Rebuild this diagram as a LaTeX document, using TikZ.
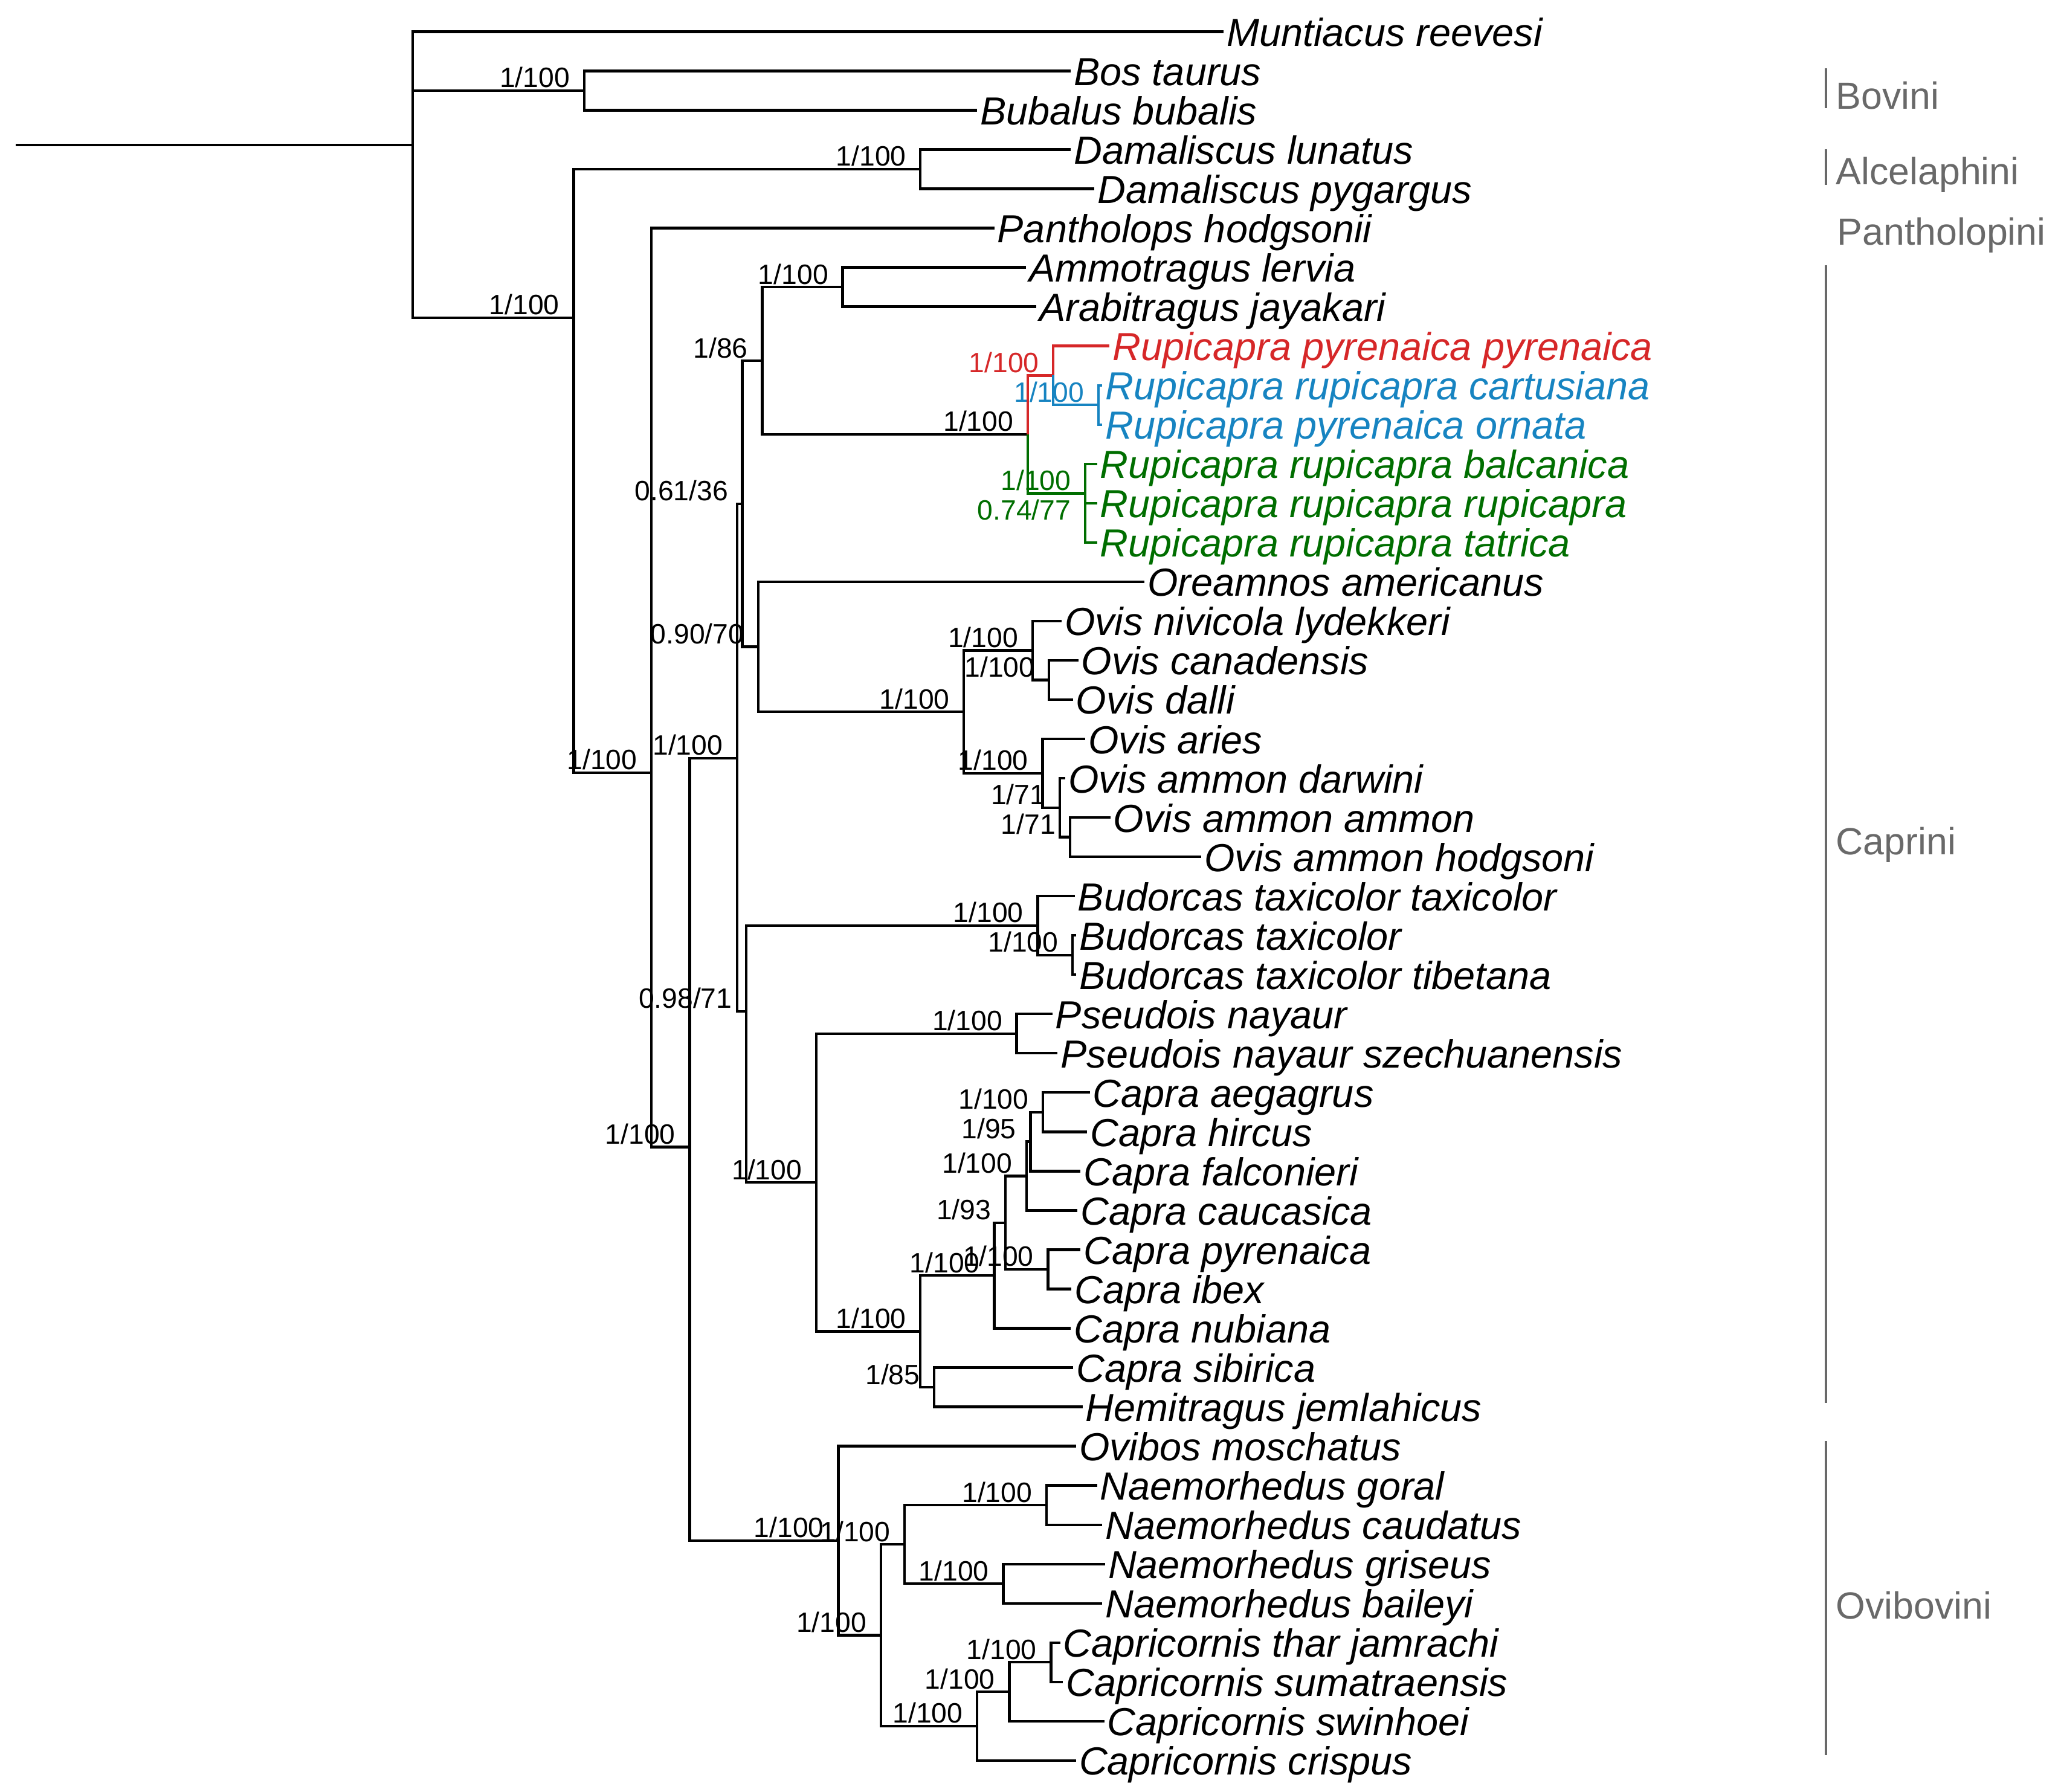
\documentclass[tikz,border=0pt]{standalone}
\usepackage{fontspec}
\setmainfont{Liberation Sans}
\definecolor{rcol}{RGB}{214,39,40}
\definecolor{bcol}{RGB}{23,132,193}
\definecolor{gcol}{RGB}{0,110,0}
\definecolor{grp}{RGB}{105,105,105}
\tikzset{
 br/.style={line width=1pt},
 sp/.style={font=\fontsize{14.85}{16}\selectfont\itshape, inner xsep=1pt, inner ysep=0pt, anchor=base west},
 lab/.style={font=\fontsize{10.6}{12}\selectfont, inner sep=0pt, anchor=base east},
 grpl/.style={font=\fontsize{14.35}{16}\selectfont, text=grp, inner sep=0pt, anchor=base west},
 gbar/.style={draw=grp, line width=0.9pt},
}
\newcommand{\mkleaf}[4][black]{\coordinate (#2) at (#3);\node[sp,text=#1] (#2t) at ([yshift=-5.5pt]#2) {#4};}
\newcommand{\mknode}[4][black]{\coordinate (#2) at (#3);\node[lab,text=#1] (#2l) at ([xshift=-5.25pt,yshift=1.15pt]#2) {#4};}
\begin{document}
\begin{tikzpicture}[x=0.5pt,y=-0.5pt]
\useasboundingbox (0,0) rectangle (1563,1359);
% ---------- leaves ----------
\mkleaf{t1}{928,24}{Muntiacus reevesi}
\mkleaf{t2}{812,53.8}{Bos taurus}
\mkleaf{t3}{741,83.6}{Bubalus bubalis}
\mkleaf{t4}{812,113.4}{Damaliscus lunatus}
\mkleaf{t5}{830,143.2}{Damaliscus pygargus}
\mkleaf{t6}{754,173}{Pantholops hodgsonii}
\mkleaf{t7}{778,202.8}{Ammotragus lervia}
\mkleaf{t8}{786,232.6}{Arabitragus jayakari}
\mkleaf[rcol]{t9}{841.5,262.4}{Rupicapra pyrenaica pyrenaica}
\mkleaf[bcol]{t10}{836,292.2}{Rupicapra rupicapra cartusiana}
\mkleaf[bcol]{t11}{836,322}{Rupicapra pyrenaica ornata}
\mkleaf[gcol]{t12}{832,351.8}{Rupicapra rupicapra balcanica}
\mkleaf[gcol]{t13}{832,381.6}{Rupicapra rupicapra rupicapra}
\mkleaf[gcol]{t14}{832,411.4}{Rupicapra rupicapra tatrica}
\mkleaf{t15}{868,441.2}{Oreamnos americanus}
\mkleaf{t16}{805,471}{Ovis nivicola lydekkeri}
\mkleaf{t17}{817.7,500.8}{Ovis canadensis}
\mkleaf{t18}{813.6,530.6}{Ovis dalli}
\mkleaf{t19}{823,560.4}{Ovis aries}
\mkleaf{t20}{807.8,590.2}{Ovis ammon darwini}
\mkleaf{t21}{842,620}{Ovis ammon ammon}
\mkleaf{t22}{911,649.8}{Ovis ammon hodgsoni}
\mkleaf{t23}{815,679.6}{Budorcas taxicolor taxicolor}
\mkleaf{t24}{816,709.4}{Budorcas taxicolor}
\mkleaf{t25}{816,739.2}{Budorcas taxicolor tibetana}
\mkleaf{t26}{798,769}{Pseudois nayaur}
\mkleaf{t27}{802,798.8}{Pseudois nayaur szechuanensis}
\mkleaf{t28}{826.4,828.6}{Capra aegagrus}
\mkleaf{t29}{824.5,858.4}{Capra hircus}
\mkleaf{t30}{819.5,888.2}{Capra falconieri}
\mkleaf{t31}{817,918}{Capra caucasica}
\mkleaf{t32}{819.5,947.8}{Capra pyrenaica}
\mkleaf{t33}{812.6,977.6}{Capra ibex}
\mkleaf{t34}{812,1007.4}{Capra nubiana}
\mkleaf{t35}{813.8,1037.2}{Capra sibirica}
\mkleaf{t36}{821,1067}{Hemitragus jemlahicus}
\mkleaf{t37}{816,1096.8}{Ovibos moschatus}
\mkleaf{t38}{832,1126.6}{Naemorhedus goral}
\mkleaf{t39}{836,1156.4}{Naemorhedus caudatus}
\mkleaf{t40}{838,1186.2}{Naemorhedus griseus}
\mkleaf{t41}{836,1216}{Naemorhedus baileyi}
\mkleaf{t42}{804,1245.8}{Capricornis thar jamrachi}
\mkleaf{t43}{806,1275.6}{Capricornis sumatraensis}
\mkleaf{t44}{837.4,1305.4}{Capricornis swinhoei}
\mkleaf{t45}{816,1335.2}{Capricornis crispus}
% ---------- internal nodes ----------
\coordinate (r0) at (12,110);
\coordinate (root) at (313,110);
\mknode{nBov}{443,68.7}{1/100}
\mknode{nB}{435,241}{1/100}
\mknode{nDam}{698,128.3}{1/100}
\mknode{nC}{494,586}{1/100}
\mknode{nD}{523,870}{1/100}
\mknode{nE}{559,575}{1/100}
\mknode{nF}{563,382.1}{0.61/36}
\mknode{nG}{575,490.55}{0.90/70}
\mknode{nH}{578,273.6}{1/86}
\mknode{nAmm}{639,217.7}{1/100}
\mknode{nRup}{779.4,329.45}{1/100}
\mknode[rcol]{nRed}{798.8,284.75}{1/100}
\mknode[bcol]{nBlu}{833,307.1}{1/100}
\mknode[gcol]{nGrn}{823,374.15}{1/100}
\mknode[gcol]{nGrnb}{823,396.5}{0.74/77}
\mknode{nOvis}{731,539.9}{1/100}
\mknode{nOva}{783,493.35}{1/100}
\mknode{nOvab}{795.5,515.7}{1/100}
\mknode{nOvc}{790.6,586.5}{1/100}
\mknode{nOvd}{803.7,612.55}{1/71}
\mknode{nOve}{811.4,634.9}{1/71}
\mknode{nI}{566,767}{0.98/71}
\mknode{nBud}{787,701.95}{1/100}
\mknode{nBudb}{813.4,724.3}{1/100}
\mknode{nPC}{619,896.8}{1/100}
\mknode{nPse}{771,783.9}{1/100}
\mknode{nCH}{698,1009.7}{1/100}
\mknode{nCap}{754,967.35}{1/100}
\mknode{nCns}{762.5,927.3}{1/93}
\mknode{nCX}{778.5,891.9}{1/100}
\mknode{nCY}{781.5,865.85}{1/95}
\mknode{nAH}{791,843.5}{1/100}
\mknode{nPI}{794.7,962.7}{1/100}
\mknode{nSH}{708.5,1052.1}{1/85}
\mknode{nOvb}{635.7,1168.45}{1/100}
\mknode{nJ}{668,1240.1}{1/100}
\mknode{nNae}{686,1171.3}{1/100}
\mknode{nGor}{793.6,1141.5}{1/100}
\mknode{nGri}{760.8,1201.1}{1/100}
\mknode{nCpc}{741,1309.1}{1/100}
\mknode{nCpa}{765.4,1283.05}{1/100}
\mknode{nCpb}{797,1260.7}{1/100}
% ---------- branches ----------
\draw[br] (r0) -- (root);
\draw[br] (root) |- (t1);
\draw[br] (root) |- (nBov);
\draw[br] (root) |- (nB);
\draw[br] (nBov) |- (t2);
\draw[br] (nBov) |- (t3);
\draw[br] (nB) |- (nDam);
\draw[br] (nB) |- (nC);
\draw[br] (nDam) |- (t4);
\draw[br] (nDam) |- (t5);
\draw[br] (nC) |- (t6);
\draw[br] (nC) |- (nD);
\draw[br] (nD) |- (nE);
\draw[br] (nD) |- (nOvb);
\draw[br] (nE) |- (nF);
\draw[br] (nE) |- (nI);
\draw[br] (nF) |- (nH);
\draw[br] (nF) |- (nG);
\draw[br] (nH) |- (nAmm);
\draw[br] (nH) |- (nRup);
\draw[br] (nAmm) |- (t7);
\draw[br] (nAmm) |- (t8);
\draw[br,rcol] (nRup) |- (nRed);
\draw[br,gcol] (nRup) |- (nGrn);
\draw[br,rcol] (nRed) |- (t9);
\draw[br,bcol] (nRed) |- (nBlu);
\draw[br,bcol] (nBlu) |- (t10);
\draw[br,bcol] (nBlu) |- (t11);
\draw[br,gcol] (nGrn) |- (t12);
\draw[br,gcol] (nGrn) |- (nGrnb);
\draw[br,gcol] (nGrnb) |- (t13);
\draw[br,gcol] (nGrnb) |- (t14);
\draw[br] (nG) |- (t15);
\draw[br] (nG) |- (nOvis);
\draw[br] (nOvis) |- (nOva);
\draw[br] (nOvis) |- (nOvc);
\draw[br] (nOva) |- (t16);
\draw[br] (nOva) |- (nOvab);
\draw[br] (nOvab) |- (t17);
\draw[br] (nOvab) |- (t18);
\draw[br] (nOvc) |- (t19);
\draw[br] (nOvc) |- (nOvd);
\draw[br] (nOvd) |- (t20);
\draw[br] (nOvd) |- (nOve);
\draw[br] (nOve) |- (t21);
\draw[br] (nOve) |- (t22);
\draw[br] (nI) |- (nBud);
\draw[br] (nI) |- (nPC);
\draw[br] (nBud) |- (t23);
\draw[br] (nBud) |- (nBudb);
\draw[br] (nBudb) |- (t24);
\draw[br] (nBudb) |- (t25);
\draw[br] (nPC) |- (nPse);
\draw[br] (nPC) |- (nCH);
\draw[br] (nPse) |- (t26);
\draw[br] (nPse) |- (t27);
\draw[br] (nCH) |- (nCap);
\draw[br] (nCH) |- (nSH);
\draw[br] (nCap) |- (nCns);
\draw[br] (nCap) |- (t34);
\draw[br] (nCns) |- (nCX);
\draw[br] (nCns) |- (nPI);
\draw[br] (nCX) |- (nCY);
\draw[br] (nCX) |- (t31);
\draw[br] (nCY) |- (nAH);
\draw[br] (nCY) |- (t30);
\draw[br] (nAH) |- (t28);
\draw[br] (nAH) |- (t29);
\draw[br] (nPI) |- (t32);
\draw[br] (nPI) |- (t33);
\draw[br] (nSH) |- (t35);
\draw[br] (nSH) |- (t36);
\draw[br] (nOvb) |- (t37);
\draw[br] (nOvb) |- (nJ);
\draw[br] (nJ) |- (nNae);
\draw[br] (nJ) |- (nCpc);
\draw[br] (nNae) |- (nGor);
\draw[br] (nNae) |- (nGri);
\draw[br] (nGor) |- (t38);
\draw[br] (nGor) |- (t39);
\draw[br] (nGri) |- (t40);
\draw[br] (nGri) |- (t41);
\draw[br] (nCpc) |- (nCpa);
\draw[br] (nCpc) |- (t45);
\draw[br] (nCpa) |- (nCpb);
\draw[br] (nCpa) |- (t44);
\draw[br] (nCpb) |- (t42);
\draw[br] (nCpb) |- (t43);
% ---------- group bars and labels ----------
\coordinate (bBova) at (1384.6,52);  \coordinate (bBovb) at (1384.6,82);
\coordinate (bAlca) at (1384.6,113); \coordinate (bAlcb) at (1384.6,140);
\coordinate (bCapa) at (1384.6,201); \coordinate (bCapb) at (1384.6,1064);
\coordinate (bOvba) at (1384.6,1093); \coordinate (bOvbb) at (1384.6,1331);
\draw[gbar] (bBova) -- (bBovb);
\draw[gbar] (bAlca) -- (bAlcb);
\draw[gbar] (bCapa) -- (bCapb);
\draw[gbar] (bOvba) -- (bOvbb);
\node[grpl] (gBov) at (1392,82.5) {Bovini};
\node[grpl] (gAlc) at (1392,140) {Alcelaphini};
\node[grpl] (gPan) at (1393,186) {Pantholopini};
\node[grpl] (gCap) at (1392,648) {Caprini};
\node[grpl] (gOvb) at (1392,1228) {Ovibovini};
\end{tikzpicture}
\end{document}
